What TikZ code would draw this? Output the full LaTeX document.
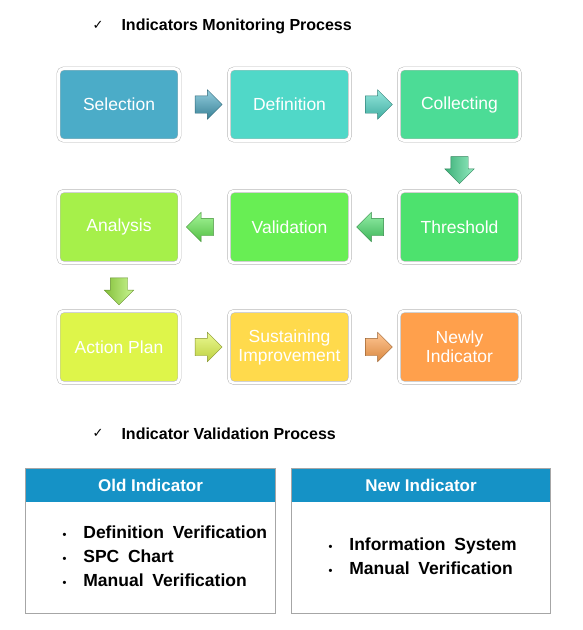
\documentclass[tikz,border=0pt]{standalone}
\usepackage{fontspec}
\setmainfont{Liberation Sans}
\newfontfamily\checkfont{DejaVu Sans}
\usetikzlibrary{shapes.arrows,shadows,calc,positioning}
\definecolor{selc}{HTML}{4BACC8}
\definecolor{defc}{HTML}{50D8C8}
\definecolor{colc}{HTML}{4CDC96}
\definecolor{thrc}{HTML}{4DE26E}
\definecolor{valc}{HTML}{68EE54}
\definecolor{anac}{HTML}{A6F04A}
\definecolor{actc}{HTML}{DEF54A}
\definecolor{susc}{HTML}{FFDA4C}
\definecolor{newc}{HTML}{FFA04C}
\definecolor{hdrc}{HTML}{1592C6}
\begin{document}
\begin{tikzpicture}[x=1pt,y=-1pt]
    \useasboundingbox (0,0) rectangle (583,630);

    \node[anchor=west] (chka) at (89,25) {\checkfont\fontsize{13}{15}\selectfont ✓};
    \node[anchor=west,font=\bfseries\fontsize{16}{19}\selectfont] (heada) at (118,26) {Indicators Monitoring Process};

    \begin{scope}[every node/.style={rounded corners=5pt,minimum width=121pt,minimum height=72pt,draw=gray!55,double=white,double distance=2.8pt,line width=0.5pt,text=white,align=center,font=\fontsize{17.5}{19}\selectfont,drop shadow={opacity=0.3,shadow xshift=1pt,shadow yshift=-1.5pt}}]
        \node[fill=selc] (sel) at (119,104.5) {Selection};
        \node[fill=defc] (def) at (289.5,104.5) {Definition};
        \node[fill=colc] (col) at (459.5,104.5) {Collecting};
        \node[fill=thrc] (thr) at (459.5,227) {Threshold};
        \node[fill=valc] (val) at (289.5,227) {Validation};
        \node[fill=anac] (ana) at (119,227) {Analysis};
        \node[fill=actc] (act) at (119,347) {Action Plan};
        \node[fill=susc] (sus) at (289.5,347) {Sustaining\\Improvement};
        \node[fill=newc] (new) at (459.5,347) {Newly\\Indicator};
    \end{scope}

    \begin{scope}[every node/.style={single arrow,inner xsep=0pt,inner ysep=8.5pt,minimum height=27pt,single arrow head extend=6pt,line width=0.4pt}]
        \node[top color=selc!60!white,bottom color=selc!75!black,draw=selc!60!black] (a1) at ($(sel.east)!0.5!(def.west)$) {};
        \node[top color=defc!60!white,bottom color=defc!80!black,draw=defc!60!black] (a2) at ($(def.east)!0.5!(col.west)$) {};
        \node[left color=colc!80!black,right color=colc!60!white,draw=colc!60!black,shape border rotate=270,inner xsep=8.5pt,inner ysep=0pt] (a3) at ($(col.south)!0.5!(thr.north)$) {};
        \node[top color=thrc!60!white,bottom color=thrc!80!black,draw=thrc!60!black,shape border rotate=180] (a4) at ($(thr.west)!0.5!(val.east)$) {};
        \node[top color=valc!60!white,bottom color=valc!80!black,draw=valc!60!black,shape border rotate=180] (a5) at ($(val.west)!0.5!(ana.east)$) {};
        \node[left color=anac!80!black,right color=anac!60!white,draw=anac!60!black,shape border rotate=270,inner xsep=8.5pt,inner ysep=0pt] (a6) at ($(ana.south)!0.5!(act.north)$) {};
        \node[top color=actc!60!white,bottom color=actc!85!black,draw=actc!60!black] (a7) at ($(act.east)!0.5!(sus.west)$) {};
        \node[top color=newc!60!white,bottom color=newc!85!black,draw=newc!60!black] (a8) at ($(sus.east)!0.5!(new.west)$) {};
    \end{scope}

    \node[anchor=west] (chkb) at (89,433) {\checkfont\fontsize{13}{15}\selectfont ✓};
    \node[anchor=west,font=\bfseries\fontsize{16}{19}\selectfont] (headb) at (118,434) {Indicator Validation Process};

    % validation tables
    \begin{scope}[every node/.style={inner sep=0pt}]
        \node[fill=hdrc,minimum width=249pt,minimum height=33pt,text=white,font=\bfseries\fontsize{17}{19}\selectfont] (oldhd) at (150.5,485.5) {Old Indicator};
        \node[minimum width=249pt,minimum height=111pt,below=0pt of oldhd] (oldbd) {};
        \node[fill=hdrc,minimum width=258pt,minimum height=33pt,text=white,font=\bfseries\fontsize{17}{19}\selectfont] (newhd) at (421,485.5) {New Indicator};
        \node[minimum width=258pt,minimum height=111pt,below=0pt of newhd] (newbd) {};
    \end{scope}
    \draw[gray!70,line width=1pt] (oldhd.north west) rectangle (oldbd.south east);
    \draw[gray!70,line width=1pt] (newhd.north west) rectangle (newbd.south east);

    \node[anchor=west,font=\bfseries\fontsize{17.5}{24}\selectfont] (oldls) at (59,558) {\spaceskip=0.5em
        \begin{tabular}{@{}l@{\hspace{17pt}}l@{}}
        {\fontsize{11}{11}\selectfont\textbullet} & Definition Verification\\
        {\fontsize{11}{11}\selectfont\textbullet} & SPC Chart\\
        {\fontsize{11}{11}\selectfont\textbullet} & Manual Verification
        \end{tabular}};
    \node[anchor=west,font=\bfseries\fontsize{17.5}{24}\selectfont] (newls) at (325,558) {\spaceskip=0.5em
        \begin{tabular}{@{}l@{\hspace{17pt}}l@{}}
        {\fontsize{11}{11}\selectfont\textbullet} & Information System\\
        {\fontsize{11}{11}\selectfont\textbullet} & Manual Verification
        \end{tabular}};
\end{tikzpicture}
\end{document}
